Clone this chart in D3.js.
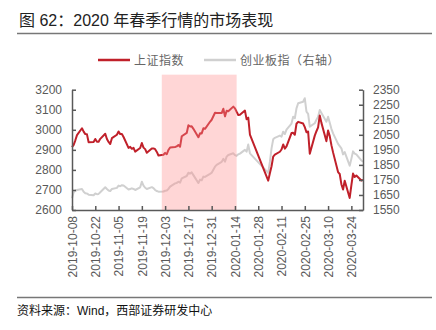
<!DOCTYPE html>
<html lang="zh">
<head>
<meta charset="UTF-8">
<title>2020 年春季行情的市场表现</title>
<script src="https://d3js.org/d3.v7.min.js"></script>
<style>
    body { margin: 0; background: #fff; }
    svg text { font-family: "Liberation Sans", Arial, "Noto Sans CJK SC", sans-serif; }
    .axis text { fill: #595959; font-size: 12px; }
    .axis path, .axis line { stroke: #595959; stroke-width: 1.5; }
</style>
</head>
<body>
<div id="chart"></div>
<script>
    // trading days, Oct 2019 - Mar 2020
    const dates = [
        "2019-10-08","2019-10-09","2019-10-10","2019-10-11","2019-10-14","2019-10-15","2019-10-16","2019-10-17","2019-10-18",
        "2019-10-21","2019-10-22","2019-10-23","2019-10-24","2019-10-25","2019-10-28","2019-10-29","2019-10-30","2019-10-31",
        "2019-11-01","2019-11-04","2019-11-05","2019-11-06","2019-11-07","2019-11-08","2019-11-11","2019-11-12","2019-11-13",
        "2019-11-14","2019-11-15","2019-11-18","2019-11-19","2019-11-20","2019-11-21","2019-11-22","2019-11-25","2019-11-26",
        "2019-11-27","2019-11-28","2019-11-29","2019-12-02","2019-12-03","2019-12-04","2019-12-05","2019-12-06","2019-12-09",
        "2019-12-10","2019-12-11","2019-12-12","2019-12-13","2019-12-16","2019-12-17","2019-12-18","2019-12-19","2019-12-20",
        "2019-12-23","2019-12-24","2019-12-25","2019-12-26","2019-12-27","2019-12-30","2019-12-31","2020-01-02","2020-01-03",
        "2020-01-06","2020-01-07","2020-01-08","2020-01-09","2020-01-10","2020-01-13","2020-01-14","2020-01-15","2020-01-16",
        "2020-01-17","2020-01-20","2020-01-21","2020-01-22","2020-01-23","2020-02-03","2020-02-04","2020-02-05","2020-02-06",
        "2020-02-07","2020-02-10","2020-02-11","2020-02-12","2020-02-13","2020-02-14","2020-02-17","2020-02-18","2020-02-19",
        "2020-02-20","2020-02-21","2020-02-24","2020-02-25","2020-02-26","2020-02-27","2020-02-28","2020-03-02","2020-03-03",
        "2020-03-04","2020-03-05","2020-03-06","2020-03-09","2020-03-10","2020-03-11","2020-03-12","2020-03-13","2020-03-16",
        "2020-03-17","2020-03-18","2020-03-19","2020-03-20","2020-03-23","2020-03-24","2020-03-25","2020-03-26","2020-03-27",
        "2020-03-30","2020-03-31"
    ];

    // 上证指数 closes
    const shIndex = [
        2913.6, 2924.9, 2947.7, 2973.7, 3007.9, 2991.1, 2978.7, 2977.3, 2938.1,
        2939.6, 2954.4, 2940.9, 2940.5, 2954.9, 2980.1, 2954.2, 2939.3, 2929.1,
        2958.2, 2975.5, 2991.6, 2978.6, 2978.7, 2964.2, 2910.0, 2914.8, 2905.2,
        2909.9, 2891.3, 2909.2, 2934.0, 2911.1, 2903.6, 2885.3, 2906.2, 2907.1,
        2903.2, 2889.7, 2872.0, 2875.8, 2884.7, 2878.1, 2899.5, 2912.0, 2914.5,
        2917.3, 2924.4, 2915.7, 2967.7, 2984.4, 3022.4, 3017.0, 3017.1, 3004.9,
        2962.8, 2982.7, 2981.9, 3007.4, 3005.0, 3040.0, 3050.1, 3085.2, 3083.8,
        3083.4, 3104.8, 3066.9, 3094.9, 3092.3, 3115.6, 3106.8, 3090.0, 3074.1,
        3075.5, 3095.8, 3052.1, 3060.8, 2976.5, 2746.6, 2783.3, 2818.1, 2866.5,
        2876.0, 2890.5, 2901.7, 2926.9, 2906.1, 2917.0, 2983.6, 2985.0, 2975.4,
        3030.2, 3039.7, 3031.2, 3013.1, 2987.9, 2991.3, 2880.3, 2970.9, 2992.9,
        3011.7, 3071.7, 3034.5, 2943.3, 2996.8, 2968.5, 2923.5, 2887.4, 2789.3,
        2779.6, 2728.8, 2702.1, 2745.6, 2660.2, 2722.4, 2781.6, 2764.9, 2772.2,
        2747.2, 2750.3
    ];

    // 创业板指 closes (right axis)
    const cybIndex = [
        1628, 1668, 1678, 1683, 1690, 1672, 1662, 1660, 1652,
        1648, 1660, 1655, 1657, 1668, 1701, 1690, 1680, 1676,
        1690, 1697, 1712, 1708, 1715, 1713, 1686, 1690, 1694,
        1690, 1683, 1701, 1738, 1712, 1698, 1690, 1702, 1695,
        1683, 1676, 1672, 1673, 1678, 1680, 1690, 1705, 1727,
        1730, 1738, 1732, 1760, 1776, 1798, 1792, 1800, 1782,
        1730, 1752, 1748, 1772, 1770, 1790, 1798, 1838, 1850,
        1870, 1890, 1872, 1905, 1916, 1927, 1915, 1910, 1920,
        1925, 1950, 1938, 1985, 1927, 1797, 1870, 1960, 2020,
        2030, 2045, 2037, 2071, 2055, 2085, 2125, 2170, 2160,
        2226, 2260, 2270, 2293, 2204, 2190, 2104, 2127, 2150,
        2170, 2215, 2195, 2137, 2170, 2130, 2090, 2060, 1990,
        1975, 1960, 1920, 1935, 1845, 1890, 1940, 1925, 1920,
        1880, 1870
    ];

    const xTickLabels = ["2019-10-08","2019-10-22","2019-11-05","2019-11-19","2019-12-03","2019-12-17","2019-12-31",
                         "2020-01-14","2020-01-28","2020-02-11","2020-02-25","2020-03-10","2020-03-24"];
    const leftTicks = [2600, 2700, 2800, 2900, 3000, 3100, 3200];
    const rightTicks = [1550, 1650, 1750, 1850, 1950, 2050, 2150, 2250, 2350];
    const shadePeriod = ["2019-12-01", "2020-01-15"];
    const shadeTop = 3275;

    const parse = d3.timeParse("%Y-%m-%d");
    const width = 436, height = 330;
    const plot = { left: 72, right: 363, top: 89.7, bottom: 210 };

    const svg = d3.select("#chart").append("svg")
        .attr("width", width)
        .attr("height", height);

    const x = d3.scaleTime()
        .domain([parse("2019-10-08"), parse("2020-03-31")])
        .range([plot.left, plot.right]);
    const yLeft = d3.scaleLinear().domain([2600, 3200]).range([plot.bottom, plot.top]);
    const yRight = d3.scaleLinear().domain([1550, 2350]).range([plot.bottom, plot.top]);

    // title and rules
    svg.append("text")
        .attr("x", 19).attr("y", 26)
        .attr("font-size", 16).attr("fill", "#222")
        .text("图 62：2020 年春季行情的市场表现");
    svg.append("line")
        .attr("x1", 17).attr("x2", 432).attr("y1", 33.5).attr("y2", 33.5)
        .attr("stroke", "#777").attr("stroke-width", 1.5);
    svg.append("line")
        .attr("x1", 17).attr("x2", 432).attr("y1", 297.5).attr("y2", 297.5)
        .attr("stroke", "#777").attr("stroke-width", 1.5);
    svg.append("text")
        .attr("x", 17).attr("y", 315)
        .attr("font-size", 12).attr("fill", "#111")
        .text("资料来源：Wind，西部证券研发中心");

    // legend
    const legendItems = [
        { name: "上证指数", color: "#c0202a", x: 98 },
        { name: "创业板指（右轴）", color: "#d0d0d0", x: 204 }
    ];
    const legend = svg.selectAll(".legend")
        .data(legendItems)
        .enter().append("g")
        .attr("class", "legend")
        .attr("transform", d => `translate(${d.x},60)`);
    legend.append("line")
        .attr("x1", 0).attr("x2", 32)
        .attr("stroke", d => d.color).attr("stroke-width", 2.5);
    legend.append("text")
        .attr("x", 36).attr("y", 5)
        .attr("font-size", 12).attr("letter-spacing", "0.5px").attr("fill", "#666")
        .text(d => d.name);

    const series = dates.map((d, i) => ({ date: parse(d), sh: shIndex[i], cyb: cybIndex[i] }));

    const cybLine = d3.line().x(d => x(d.date)).y(d => yRight(d.cyb));
    const shLine = d3.line().x(d => x(d.date)).y(d => yLeft(d.sh));

    svg.append("path")
        .datum(series)
        .attr("d", cybLine)
        .attr("fill", "none")
        .attr("stroke", "#d0d0d0")
        .attr("stroke-width", 2)
        .attr("stroke-linejoin", "round");

    svg.append("path")
        .datum(series)
        .attr("d", shLine)
        .attr("fill", "none")
        .attr("stroke", "#c0202a")
        .attr("stroke-width", 2)
        .attr("stroke-linejoin", "round");

    // spring rally band, drawn over the lines
    svg.append("rect")
        .attr("x", x(parse(shadePeriod[0])))
        .attr("width", x(parse(shadePeriod[1])) - x(parse(shadePeriod[0])))
        .attr("y", yLeft(shadeTop))
        .attr("height", plot.bottom - yLeft(shadeTop))
        .attr("fill", "rgb(255,140,140)")
        .attr("fill-opacity", 0.36);

    // axes
    svg.append("g")
        .attr("class", "axis")
        .attr("transform", `translate(${plot.left},0)`)
        .call(d3.axisLeft(yLeft).tickValues(leftTicks).tickFormat(d3.format("d"))
            .tickSize(-4).tickSizeOuter(0).tickPadding(10));

    svg.append("g")
        .attr("class", "axis")
        .attr("transform", `translate(${plot.right},0)`)
        .call(d3.axisRight(yRight).tickValues(rightTicks).tickFormat(d3.format("d"))
            .tickSize(-4).tickSizeOuter(0).tickPadding(10));

    svg.append("g")
        .attr("class", "axis")
        .attr("transform", `translate(0,${plot.bottom})`)
        .call(d3.axisBottom(x)
            .tickValues(xTickLabels.map(parse))
            .tickFormat(d3.timeFormat("%Y-%m-%d"))
            .tickSize(-4).tickSizeOuter(0))
        .selectAll("text")
        .attr("y", 0)
        .attr("x", -6)
        .attr("dy", "0.35em")
        .attr("transform", "rotate(-90)")
        .style("text-anchor", "end");
</script>
</body>
</html>
